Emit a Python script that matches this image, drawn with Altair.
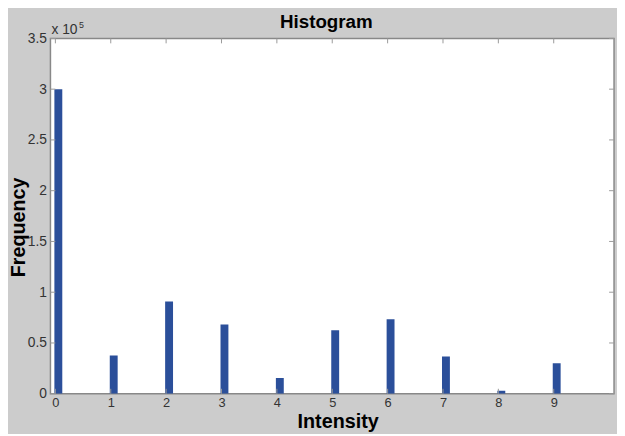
import altair as alt
import pandas as pd

intensity = [0, 1, 2, 3, 4, 5, 6, 7, 8, 9]
frequency = [300000, 37600, 90800, 68100, 15600, 62500, 73300, 36700, 3000, 30000]
x_ticks = [0, 1, 2, 3, 4, 5, 6, 7, 8, 9]
y_ticks = [0, 50000, 100000, 150000, 200000, 250000, 300000, 350000]

df = pd.DataFrame({"Intensity": intensity, "Frequency": frequency})
xt = pd.DataFrame({"t": x_ticks})
yt = pd.DataFrame({"t": y_ticks})

FONT = "Liberation Sans"
W, H = 571, 360

xscale = alt.Scale(domain=[0, 10], nice=False, zero=False)
yscale = alt.Scale(domain=[0, 350000], nice=False)

bars = alt.Chart(df).mark_bar(size=8, xOffset=3, clip=True, color="#2b4f9a").encode(
    x=alt.X("Intensity:Q", scale=xscale,
            axis=alt.Axis(values=x_ticks, format="d", ticks=False, domain=False, grid=False,
                          labelFont=FONT, labelFontSize=13, labelColor="#333333",
                          labelPadding=3,
                          title="Intensity", titleFont=FONT, titleFontSize=20,
                          titleFontWeight="bold", titleColor="#000000",
                          titleX=291, titleY=28, titleAlign="center",
                          titleBaseline="middle")),
    y=alt.Y("Frequency:Q", scale=yscale,
            axis=alt.Axis(values=y_ticks, ticks=False, domain=False, grid=False,
                          labelExpr="datum.value / 100000",
                          labelFont=FONT, labelFontSize=14, labelColor="#333333",
                          labelPadding=4,
                          title="Frequency", titleFont=FONT, titleFontSize=20,
                          titleFontWeight="bold", titleColor="#000000",
                          titleX=-32, titleY=191, titleAlign="center",
                          titleBaseline="middle", titleAngle=-90)),
)

tick_color = "#999999"
top_ticks = alt.Chart(xt).mark_rule(color=tick_color, strokeWidth=1).encode(
    x=alt.X("t:Q", scale=xscale), y=alt.value(0), y2=alt.value(5))
bot_ticks = alt.Chart(xt).mark_rule(color=tick_color, strokeWidth=1).encode(
    x=alt.X("t:Q", scale=xscale), y=alt.value(H), y2=alt.value(H - 5))
right_ticks = alt.Chart(yt).mark_rule(color=tick_color, strokeWidth=1).encode(
    y=alt.Y("t:Q", scale=yscale), x=alt.value(W), x2=alt.value(W - 5))
left_ticks = alt.Chart(yt).mark_rule(color=tick_color, strokeWidth=1).encode(
    y=alt.Y("t:Q", scale=yscale), x=alt.value(0), x2=alt.value(5))

exp_base = alt.Chart(pd.DataFrame({"s": ["x 10"]})).mark_text(
    font=FONT, fontSize=14, color="#333333", align="left", baseline="alphabetic"
).encode(text="s:N", x=alt.value(1), y=alt.value(-4))
exp_sup = alt.Chart(pd.DataFrame({"s": ["5"]})).mark_text(
    font=FONT, fontSize=9, color="#333333", align="left", baseline="alphabetic"
).encode(text="s:N", x=alt.value(29), y=alt.value(-11))

title = alt.Chart(pd.DataFrame({"s": ["Histogram"]})).mark_text(
    font=FONT, fontSize=19, fontWeight="bold", color="#000000",
    align="center", baseline="alphabetic"
).encode(text="s:N", x=alt.value(W / 2 - 6), y=alt.value(-11))

chart = alt.layer(bars, top_ticks, bot_ticks, right_ticks, left_ticks,
                  exp_base, exp_sup, title).properties(
    width=W, height=H,
    padding={"left": 43, "top": 28, "right": 3, "bottom": 38},
    autosize=alt.AutoSizeParams(type="none"),
    background="#cccccc",
).configure_view(fill="#ffffff", stroke="#888888", strokeWidth=1.5)

chart.save("out.html", embed_options={"renderer": "svg", "actions": False})
